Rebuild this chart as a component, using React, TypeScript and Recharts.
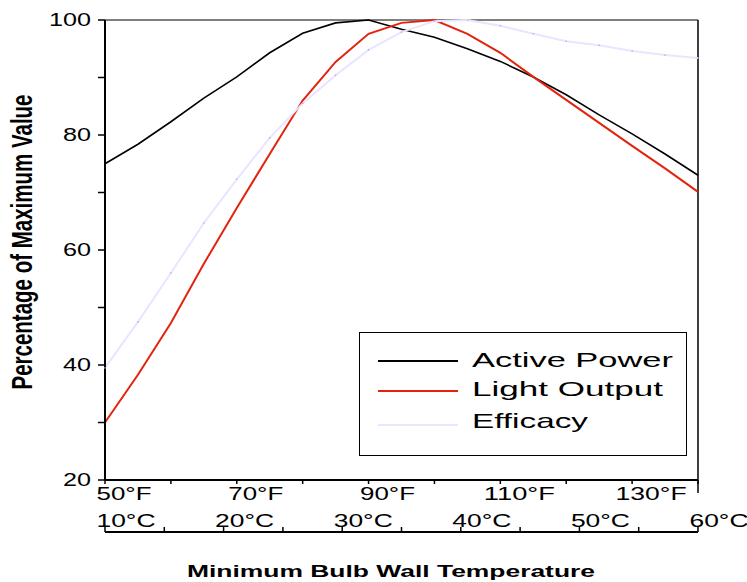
import { LineChart, Line, XAxis, YAxis, Legend, ReferenceLine, Label } from 'recharts'

// Minimum bulb wall temperature, every 5°F
const tempF = [50, 55, 60, 65, 70, 75, 80, 85, 90, 95, 100, 105, 110, 115, 120, 125, 130, 135, 140]

// Percentage of maximum value
const activePower = [75.0, 78.4, 82.3, 86.4, 90.1, 94.3, 97.7, 99.5, 100, 98.4, 97.0, 95.0, 92.8, 90.1, 87.0, 83.5, 80.2, 76.7, 73.0]
const lightOutput = [30.0, 38.3, 47.3, 57.6, 67.3, 76.7, 86.0, 92.7, 97.6, 99.5, 100, 97.6, 94.3, 90.1, 86.1, 82.1, 78.1, 74.2, 70.1]
const efficacy = [39.5, 47.5, 56.0, 64.7, 72.3, 79.5, 85.5, 90.4, 94.8, 97.9, 99.8, 100, 99.0, 97.6, 96.3, 95.6, 94.6, 93.9, 93.4]

const yTicks = [20, 30, 40, 50, 60, 70, 80, 90, 100]
const yLabelTicks = [20, 40, 60, 80, 100]
const fTicks = [50, 60, 70, 80, 90, 100, 110, 120, 130, 140]
const fLabelTicks = [50, 70, 90, 110, 130]
const cTicks = [10, 15, 20, 25, 30, 35, 40, 45, 50, 55, 60]
const cLabelTicks = [10, 20, 30, 40, 50, 60]

const seriesNames = ['Active Power', 'Light Output', 'Efficacy']

const FONT = '"Liberation Sans", Arial, Helvetica, sans-serif'

const data = tempF.map((f, i) => ({
  f,
  c: ((f - 32) * 5) / 9,
  active: activePower[i],
  light: lightOutput[i],
  eff: efficacy[i],
}))

// legend text widths (the source picture is stretched sideways)
const legendWidths: Record<string, number> = {
  'Active Power': 201,
  'Light Output': 191,
  Efficacy: 116,
}

// text squeezed/stretched sideways, like the scanned original
function WideText({ x, y, s, width, anchor = 'start', size, bold = false, children }: any) {
  return (
    <text
      transform={`translate(${x},${y}) scale(${s},1)`}
      textAnchor={anchor}
      fontSize={size}
      fontWeight={bold ? 'bold' : 'normal'}
      fontFamily={FONT}
      fill="#000"
      textLength={width / s}
      lengthAdjust="spacingAndGlyphs"
    >
      {children}
    </text>
  )
}

function YTick({ x, y, payload }: any) {
  if (!yLabelTicks.includes(payload.value)) return <g />
  const label = String(payload.value)
  return (
    <WideText x={x - 7} y={y + 6} s={1.4} width={label.length === 3 ? 42 : 28} anchor="end" size={18}>
      {label}
    </WideText>
  )
}

function FTick({ x, y, payload }: any) {
  const v = payload.value
  return (
    <g>
      {v === 140 && <line x1={x} x2={x} y1={y - 4} y2={y + 9} stroke="#000" strokeWidth={1.5} />}
      {fLabelTicks.includes(v) && (
        <WideText x={x + 19} y={y + 16} s={1.4} width={v >= 100 ? 71 : 55} anchor="middle" size={18}>
          {`${v}°F`}
        </WideText>
      )}
    </g>
  )
}

function CTick({ x, y, payload }: any) {
  const v = payload.value
  return (
    <g>
      <line x1={x} x2={x} y1={y - 5} y2={y} stroke="#000" strokeWidth={1.5} />
      {cLabelTicks.includes(v) && (
        <WideText x={x + 21} y={y - 5} s={1.4} width={59} anchor="middle" size={18}>
          {`${v}°C`}
        </WideText>
      )}
    </g>
  )
}

function YTitle() {
  return (
    <text
      transform="translate(32,242) scale(1.45,1) rotate(-90)"
      textAnchor="middle"
      fontSize={20}
      fontWeight="bold"
      fontFamily={FONT}
      fill="#000"
      textLength={295}
      lengthAdjust="spacingAndGlyphs"
    >
      Percentage of Maximum Value
    </text>
  )
}

function XTitle() {
  return (
    <WideText x={391} y={577} s={1.5} width={408} anchor="middle" size={17} bold>
      Minimum Bulb Wall Temperature
    </WideText>
  )
}

function LegendBox({ payload }: any) {
  const items = [...(payload || [])].sort(
    (a: any, b: any) => seriesNames.indexOf(a.value) - seriesNames.indexOf(b.value)
  )
  return (
    <div
      style={{
        width: 328,
        height: 124,
        boxSizing: 'border-box',
        border: '1.5px solid #000',
        background: '#fff',
      }}
    >
      <svg width={325} height={121} style={{ display: 'block' }}>
        {items.map((item: any, i: number) => {
          const rowY = [28, 58, 92][i]
          const baseY = [34, 63, 95][i]
          return (
            <g key={item.value}>
              <line x1={18} x2={98} y1={rowY} y2={rowY} stroke={item.color} strokeWidth={2} />
              <WideText x={112} y={baseY} s={1.6} width={legendWidths[item.value]} size={21}>
                {item.value}
              </WideText>
            </g>
          )
        })}
      </svg>
    </div>
  )
}

export default function App() {
  return (
    <div style={{ position: 'absolute', left: 0, top: 0, width: 747, height: 582, background: '#fff' }}>
      <LineChart
        width={747}
        height={582}
        data={data}
        margin={{ top: 20, right: 49, left: 45, bottom: 20 }}
        style={{ fontFamily: FONT }}
      >
        <XAxis
          xAxisId="a"
          dataKey="f"
          type="number"
          domain={[50, 140]}
          ticks={fTicks}
          interval={0}
          height={52}
          tickSize={4}
          tickMargin={0}
          axisLine={{ stroke: '#000', strokeWidth: 2 }}
          tickLine={{ stroke: '#000', strokeWidth: 1.5 }}
          tick={FTick}
        />
        <XAxis
          xAxisId="b"
          dataKey="c"
          type="number"
          domain={[10, 60]}
          allowDataOverflow
          ticks={cTicks}
          interval={0}
          height={30}
          tickSize={0}
          tickMargin={0}
          axisLine={{ stroke: '#000', strokeWidth: 2 }}
          tickLine={false}
          tick={CTick}
        >
          <Label content={XTitle} />
        </XAxis>
        <YAxis
          domain={[20, 100]}
          ticks={yTicks}
          interval={0}
          width={60}
          tickSize={7}
          tickMargin={0}
          axisLine={{ stroke: '#000', strokeWidth: 2 }}
          tickLine={{ stroke: '#000', strokeWidth: 1.5 }}
          tick={YTick}
        >
          <Label content={YTitle} />
        </YAxis>
        <ReferenceLine xAxisId="a" y={100} stroke="#000" strokeWidth={1} />
        <ReferenceLine xAxisId="a" x={140} stroke="#000" strokeWidth={1.5} />
        <Legend
          layout="vertical"
          align="center"
          verticalAlign="middle"
          content={LegendBox}
          wrapperStyle={{ position: 'absolute', left: 359, top: 332, width: 328, height: 124 }}
        />
        <Line
          xAxisId="a"
          type="linear"
          dataKey="active"
          name="Active Power"
          stroke="#000"
          strokeWidth={1.6}
          dot={false}
          isAnimationActive={false}
        />
        <Line
          xAxisId="a"
          type="linear"
          dataKey="light"
          name="Light Output"
          stroke="#e2230d"
          strokeWidth={2}
          dot={false}
          isAnimationActive={false}
        />
        <Line
          xAxisId="a"
          type="linear"
          dataKey="eff"
          name="Efficacy"
          stroke="#e8e5ff"
          strokeWidth={2}
          dot={{ r: 0.8, fill: '#e58be5', stroke: 'none' }}
          isAnimationActive={false}
        />
      </LineChart>
    </div>
  )
}
